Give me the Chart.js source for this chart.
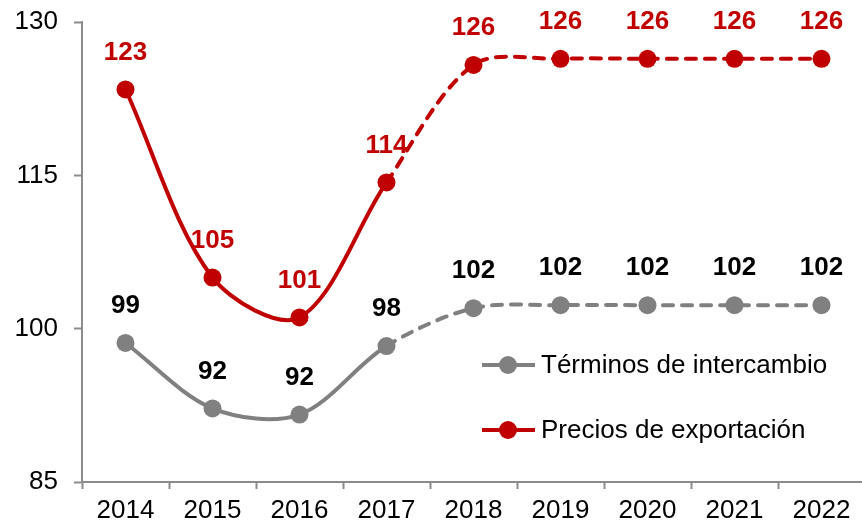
<!DOCTYPE html>
<html>
<head>
<meta charset="utf-8">
<script src="https://cdn.jsdelivr.net/npm/chart.js@4"></script>
<style>
  html, body { margin: 0; padding: 0; background: #fff; overflow: hidden; }
  #wrap { width: 874px; height: 525px; }
</style>
</head>
<body>
<div id="wrap"><canvas id="myChart" width="874" height="525"></canvas></div>
<script>
const years = ['2014', '2015', '2016', '2017', '2018', '2019', '2020', '2021', '2022'];

const terminos = [98.6, 92.2, 91.6, 98.3, 102.0, 102.3, 102.3, 102.3, 102.3];
const terminosLabels = ['99', '92', '92', '98', '102', '102', '102', '102', '102'];

const precios = [123.4, 105.0, 101.1, 114.3, 125.8, 126.4, 126.4, 126.4, 126.4];
const preciosLabels = ['123', '105', '101', '114', '126', '126', '126', '126', '126'];

const yTicks = [85, 100, 115, 130];

const grayColor = '#808080';
const redColor = '#C00000';
const axisColor = '#8c8c8c';
const font = 'Liberation Sans, Arial, sans-serif';

// dashed after 2017 (projections)
const dashAfter = (ctx) => ctx.p0DataIndex >= 3 ? [10, 9] : undefined;

const valueLabels = {
    id: 'valueLabels',
    afterDatasetsDraw(chart) {
        const c = chart.ctx;
        c.save();
        c.font = 'bold 26px ' + font;
        c.textAlign = 'center';
        c.textBaseline = 'middle';
        chart.data.datasets.forEach((ds, i) => {
            const meta = chart.getDatasetMeta(i);
            c.fillStyle = ds.labelColor;
            meta.data.forEach((pt, j) => {
                c.fillText(ds.valueLabels[j], pt.x, pt.y - 37);
            });
        });
        c.restore();
    }
};

const insideLegend = {
    id: 'insideLegend',
    afterDraw(chart) {
        const c = chart.ctx;
        const x0 = 482;
        const rows = [[365, 0], [430, 1]];
        c.save();
        c.font = '26px ' + font;
        c.textBaseline = 'middle';
        rows.forEach(([y, i]) => {
            const ds = chart.data.datasets[i];
            c.strokeStyle = ds.borderColor;
            c.lineWidth = 4;
            c.beginPath();
            c.moveTo(x0, y);
            c.lineTo(x0 + 53, y);
            c.stroke();
            c.fillStyle = ds.borderColor;
            c.beginPath();
            c.arc(x0 + 26, y, 9, 0, Math.PI * 2);
            c.fill();
            c.fillStyle = '#000';
            c.fillText(ds.label, x0 + 59, y + 1);
        });
        c.restore();
    }
};

const ctx = document.getElementById('myChart').getContext('2d');

const myChart = new Chart(ctx, {
    type: 'line',
    data: {
        labels: years,
        datasets: [{
            label: 'Términos de intercambio',
            data: terminos,
            valueLabels: terminosLabels,
            labelColor: '#000',
            borderColor: grayColor,
            backgroundColor: grayColor,
            borderWidth: 4,
            borderCapStyle: 'round',
            pointRadius: 9,
            pointBorderWidth: 0,
            tension: 0.32,
            segment: { borderDash: dashAfter }
        }, {
            label: 'Precios de exportación',
            data: precios,
            valueLabels: preciosLabels,
            labelColor: redColor,
            borderColor: redColor,
            backgroundColor: redColor,
            borderWidth: 4,
            borderCapStyle: 'round',
            pointRadius: 9,
            pointBorderWidth: 0,
            tension: 0.32,
            segment: { borderDash: dashAfter }
        }]
    },
    options: {
        responsive: false,
        animation: false,
        layout: { padding: { top: 22, right: 1, left: 0, bottom: 0 } },
        plugins: {
            legend: { display: false },
            tooltip: { enabled: false }
        },
        scales: {
            x: {
                offset: true,
                grid: {
                    offset: true,
                    drawOnChartArea: false,
                    tickLength: 7,
                    tickWidth: 2,
                    tickColor: axisColor
                },
                border: { color: axisColor, width: 2 },
                ticks: {
                    color: '#000',
                    font: { family: font, size: 26 },
                    padding: 6,
                    maxRotation: 0
                },
                afterFit(scale) {
                    scale.height = 43;
                    scale.paddingLeft = 0;
                    scale.paddingRight = 0;
                }
            },
            y: {
                min: 85,
                max: 130,
                afterBuildTicks(scale) {
                    scale.ticks = yTicks.map(v => ({ value: v }));
                },
                grid: {
                    drawOnChartArea: false,
                    tickLength: 8,
                    tickWidth: 2,
                    tickColor: axisColor
                },
                border: { color: axisColor, width: 2 },
                ticks: {
                    color: '#000',
                    font: { family: font, size: 26 },
                    padding: 16
                },
                afterFit(scale) {
                    scale.width = 82;
                    scale.paddingTop = 0;
                    scale.paddingBottom = 0;
                }
            }
        }
    },
    plugins: [valueLabels, insideLegend]
});
</script>
</body>
</html>
